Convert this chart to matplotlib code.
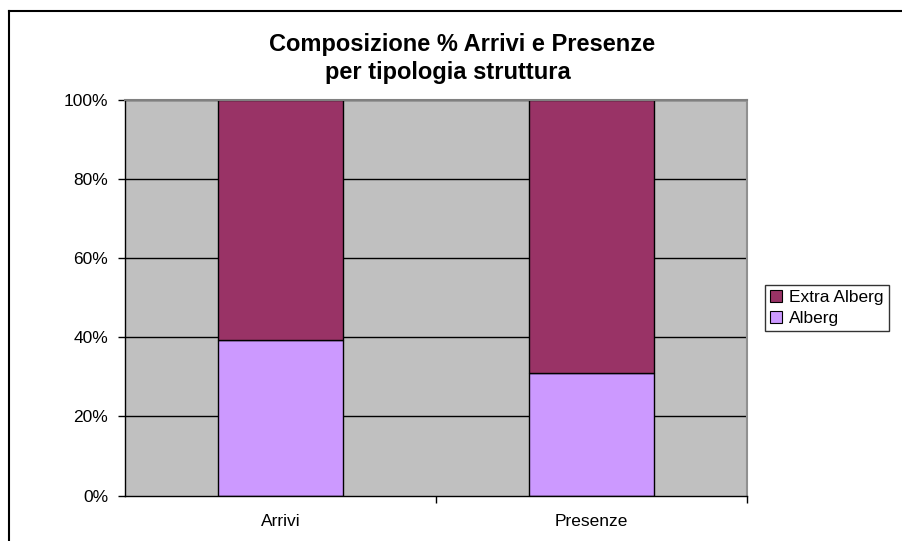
import matplotlib
matplotlib.use("Agg")
import matplotlib.pyplot as plt
from matplotlib.lines import Line2D
from matplotlib.patches import Patch

plt.rcParams['font.family'] = ['Liberation Sans', 'DejaVu Sans']

categories = ["Arrivi", "Presenze"]
alberg = [39.3, 30.9]
extra_alberg = [60.7, 69.1]
yticks = [0, 20, 40, 60, 80, 100]
ytick_labels = ["0%", "20%", "40%", "60%", "80%", "100%"]

fig = plt.figure(figsize=(9.02, 5.41), dpi=100)
ax = fig.add_axes([125/902, 1 - 495.5/541, 622/902, 395.5/541])
ax.set_facecolor("#C0C0C0")

x = list(range(len(categories)))
w = 0.402
for yv in yticks[1:]:
    ax.axhline(yv, color="black", lw=1.0, zorder=1)
ax.bar(x, alberg, w, color="#CC99FF", edgecolor="black", lw=1.0, zorder=2, label="Alberg")
ax.bar(x, extra_alberg, w, bottom=alberg, color="#993366", edgecolor="black", lw=1.0, zorder=2, label="Extra Alberg")

ax.set_xlim(-0.5, 1.5)
ax.set_ylim(0, 100)
ax.set_yticks(yticks)
ax.set_yticklabels(ytick_labels, fontsize=12.5)
ax.set_xticks([0.5, 1.5], minor=False)
ax.set_xticklabels(["", ""])
ax.set_xticks(x, minor=True)
ax.set_xticklabels(categories, minor=True, fontsize=12.5)
ax.tick_params(axis='x', which='minor', length=0, pad=13)
ax.tick_params(axis='x', which='major', length=5, direction='out', width=1)
ax.tick_params(axis='y', length=5, direction='out', width=1, pad=7)

for s in ["left", "bottom"]:
    ax.spines[s].set_color("black")
    ax.spines[s].set_linewidth(1.0)
ax.spines["top"].set_color("#808080")
ax.spines["top"].set_linewidth(1.5)
ax.spines["right"].set_color("#909090")
ax.spines["right"].set_linewidth(1.5)

fig.text(462/902, 1 - 45/541, "Composizione % Arrivi e Presenze", ha="center", va="center",
         fontsize=17, fontweight="bold")
fig.text(448/902, 1 - 72/541, "per tipologia struttura", ha="center", va="center",
         fontsize=17, fontweight="bold")

handles = [Patch(facecolor="#993366", edgecolor="black", lw=0.8),
           Patch(facecolor="#CC99FF", edgecolor="black", lw=0.8)]
leg = fig.legend(handles, ["Extra Alberg", "Alberg"], loc="upper left",
                 bbox_to_anchor=(765/902, 1 - 285/541), fontsize=12.5,
                 frameon=True, fancybox=False, edgecolor="black",
                 handlelength=0.7, handleheight=0.7, handletextpad=0.4,
                 borderpad=0.3, labelspacing=0.3, borderaxespad=0)
leg.get_frame().set_linewidth(1.0)

# outer chart border
fig.add_artist(Line2D([9/902, 9/902], [0, 1 - 11/541], color="black", lw=1.5))
fig.add_artist(Line2D([9/902, 1], [1 - 11/541, 1 - 11/541], color="black", lw=1.5))

fig.savefig("out.png", dpi=100)
